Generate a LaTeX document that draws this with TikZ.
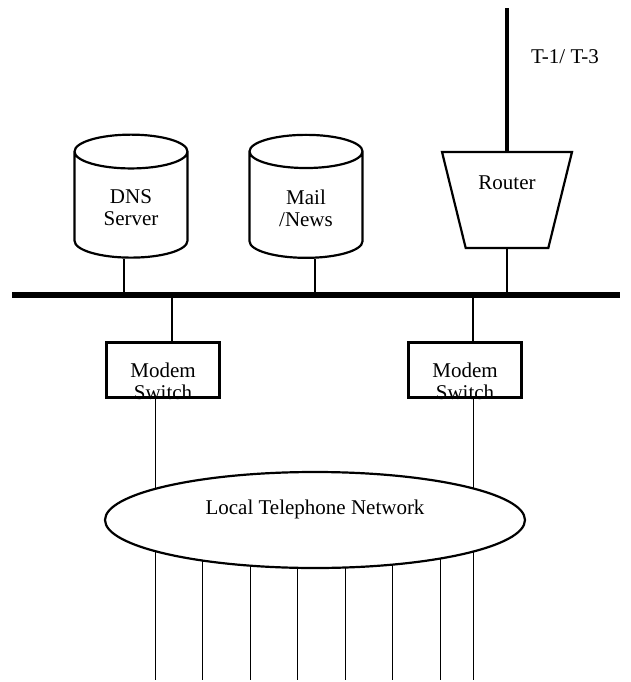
\documentclass[tikz,border=0pt]{standalone}
\usepackage{fontspec}
\setmainfont{Liberation Serif}
\usetikzlibrary{shapes.geometric,backgrounds,calc}

\begin{document}
\begin{tikzpicture}[x=1pt,y=-1pt,line width=2.2pt,font=\fontsize{21}{22}\selectfont,
    drum/.style={cylinder,draw,shape border rotate=90,aspect=0.55,minimum height=123,minimum width=113,align=center},
    modem/.style={rectangle,draw,minimum width=113,minimum height=55},
    router/.style={trapezium,draw,shape border rotate=180,trapezium stretches=true,trapezium angle=74,minimum width=130,minimum height=96},
    net/.style={ellipse,draw,fill=white,minimum width=420,minimum height=96}]
    \useasboundingbox (0,0) rectangle (630,682);

    \node (dns) [drum] at (131,208) {DNS\\Server};
    \node (mail) [drum] at (306,208) {Mail\\/News};
    \node (rtr) [router, label={[yshift=17pt]center:Router}] at (507,200) {};
    \node (t1) at (565,57) {T-1/ T-3};

    \node (ml) [modem, label={[align=center,yshift=-11pt]center:Modem\\Switch}] at (163,370) {};
    \node (mr) [modem, label={[align=center,yshift=-11pt]center:Modem\\Switch}] at (465,370) {};

    \node (ltn) [net] at (315,520) {\raisebox{26pt}{Local Telephone Network}};

    \coordinate (busL) at (12,295);
    \coordinate (busR) at (620,295);
    \coordinate (wan) at (507,8);
    \coordinate (b1) at (124,295);
    \coordinate (b2) at (315,295);
    \coordinate (b3) at (172,295);
    \coordinate (b4) at (473,295);
    \coordinate (p1) at (155,680);
    \coordinate (p8) at (473,680);

    % backbone and uplink
    \draw[line width=5.5pt] (busL) -- (busR);
    \draw[line width=4pt] (rtr.north) -- (wan);

    \path
        (b1) edge (b1 |- dns.south)
        (b2) edge (b2 |- mail.south)
        (rtr.south) edge (rtr.south |- busL)
        (b3) edge (b3 |- ml.north)
        (b4) edge (b4 |- mr.north)
    ;

    % lines behind the telephone network
    \begin{scope}[on background layer]
        \draw (p1 |- ml.south) -- (p1);
        \draw (p8 |- mr.south) -- (p8);
        \foreach \x in {202,250,297,345,392,440}
            \draw (\x,520) -- (\x,680);
    \end{scope}
\end{tikzpicture}
\end{document}
